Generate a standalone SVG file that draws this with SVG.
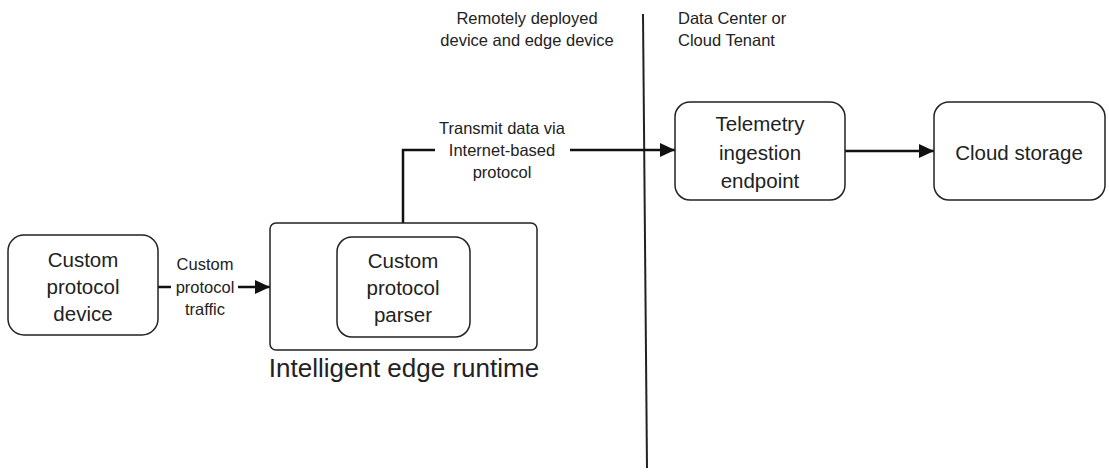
<svg xmlns="http://www.w3.org/2000/svg" width="1109" height="473" viewBox="0 0 1109 473">
<style>
.box{fill:#fff;stroke:#222;stroke-width:1.5}
.t{font-family:"Liberation Sans",Arial,sans-serif;font-size:20.5px;fill:#222;text-anchor:middle;dominant-baseline:central}
.s{font-family:"Liberation Sans",Arial,sans-serif;font-size:16.5px;fill:#222;text-anchor:middle;dominant-baseline:central}
.l{stroke:#111;stroke-width:2.5;fill:none}
</style>
<defs>
<marker id="ah" viewBox="0 0 15 14" refX="15" refY="7" markerWidth="15" markerHeight="14" orient="auto" markerUnits="userSpaceOnUse">
<path d="M0,0 L15,7 L0,14 z" fill="#111"/>
</marker>
</defs>
<g id="divider">
<line x1="643" y1="14" x2="647" y2="468" stroke="#222" stroke-width="2"/>
<text class="s" x="527" y="18">Remotely deployed</text>
<text class="s" x="527" y="40">device and edge device</text>
<text class="s" x="678" y="18" style="text-anchor:start">Data Center or</text>
<text class="s" x="678" y="40" style="text-anchor:start">Cloud Tenant</text>
</g>
<g id="connectors">
<path class="l" d="M158,287 H171"/>
<path class="l" d="M238,287 H270" marker-end="url(#ah)"/>
<text class="s" x="205" y="264">Custom</text>
<text class="s" x="205" y="287">protocol</text>
<text class="s" x="205" y="309">traffic</text>
<path class="l" d="M403,223 V150 H435"/>
<path class="l" d="M570,150 H675" marker-end="url(#ah)"/>
<text class="s" x="502" y="128">Transmit data via</text>
<text class="s" x="502" y="150">Internet-based</text>
<text class="s" x="502" y="172">protocol</text>
<path class="l" d="M845,151 H934" marker-end="url(#ah)"/>
</g>
<g id="device">
<rect class="box" x="8" y="235" width="150" height="100" rx="16"/>
<text class="t" x="83" y="259">Custom</text>
<text class="t" x="83" y="286">protocol</text>
<text class="t" x="83" y="313">device</text>
</g>
<g id="edge-runtime">
<rect class="box" x="270" y="223" width="267" height="127" rx="6"/>
<text class="t" x="404" y="368" style="font-size:26px">Intelligent edge runtime</text>
</g>
<g id="parser">
<rect class="box" x="337" y="237" width="133" height="100" rx="15"/>
<text class="t" x="403" y="260">Custom</text>
<text class="t" x="403" y="287">protocol</text>
<text class="t" x="403" y="314">parser</text>
</g>
<g id="telemetry">
<rect class="box" x="675" y="102" width="170" height="98" rx="15"/>
<text class="t" x="760" y="123">Telemetry</text>
<text class="t" x="760" y="152">ingestion</text>
<text class="t" x="760" y="180">endpoint</text>
</g>
<g id="storage">
<rect class="box" x="934" y="102" width="171" height="98" rx="15"/>
<text class="t" x="1019" y="152">Cloud storage</text>
</g>
</svg>
